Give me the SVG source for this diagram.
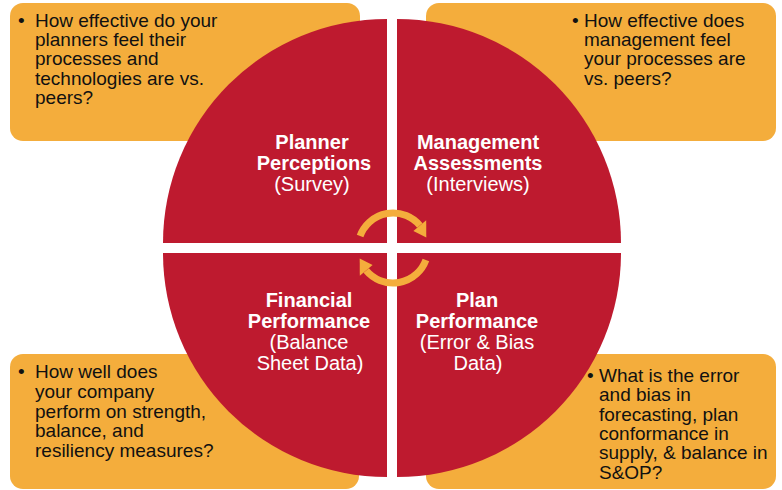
<svg xmlns="http://www.w3.org/2000/svg" width="782" height="490" viewBox="0 0 782 490">
  <style>
    .box { fill: #F4AD3C; }
    .quad { fill: #BE1A2F; }
    .q { font-family: "Liberation Sans", Arial, sans-serif; font-size: 19px; fill: #111111; }
    .t { font-family: "Liberation Sans", Arial, sans-serif; font-size: 20px; fill: #FFFFFF; text-anchor: middle; }
    .b { font-weight: bold; }
    .arc { fill: none; stroke: #F4AD3C; stroke-width: 7; }
    .head { fill: #F4AD3C; }
  </style>
  <rect width="782" height="490" fill="#FFFFFF"/>

  <!-- question boxes (behind the circle) -->
  <g id="box-planner">
    <rect class="box" x="10" y="3" width="350" height="138" rx="13"/>
    <text class="q" x="18" y="26.7">•</text>
    <text class="q">
      <tspan x="35" y="26.7">How effective do your</tspan>
      <tspan x="35" y="46">planners feel their</tspan>
      <tspan x="35" y="65.3">processes and</tspan>
      <tspan x="35" y="84.6">technologies are vs.</tspan>
      <tspan x="35" y="104">peers?</tspan>
    </text>
  </g>
  <g id="box-management">
    <rect class="box" x="426" y="3" width="350" height="138" rx="13"/>
    <text class="q" x="572" y="26.7">•</text>
    <text class="q">
      <tspan x="584" y="26.7">How effective does</tspan>
      <tspan x="584" y="46">management feel</tspan>
      <tspan x="584" y="65.3">your processes are</tspan>
      <tspan x="584" y="84.7">vs. peers?</tspan>
    </text>
  </g>
  <g id="box-financial">
    <rect class="box" x="10" y="354" width="349" height="135" rx="13"/>
    <text class="q" x="18" y="378.3">•</text>
    <text class="q">
      <tspan x="35" y="378.3">How well does</tspan>
      <tspan x="35" y="397.9">your company</tspan>
      <tspan x="35" y="417.5">perform on strength,</tspan>
      <tspan x="35" y="437.1">balance, and</tspan>
      <tspan x="35" y="456.7">resiliency measures?</tspan>
    </text>
  </g>
  <g id="box-plan">
    <rect class="box" x="426" y="354" width="350" height="135" rx="13"/>
    <text class="q" x="587" y="382">•</text>
    <text class="q">
      <tspan x="599" y="382">What is the error</tspan>
      <tspan x="599" y="401.3">and bias in</tspan>
      <tspan x="599" y="420.6">forecasting, plan</tspan>
      <tspan x="599" y="439.9">conformance in</tspan>
      <tspan x="599" y="459.2">supply, &amp; balance in</tspan>
      <tspan x="599" y="478.5">S&amp;OP?</tspan>
    </text>
  </g>

  <!-- the four quarter-circle quadrants -->
  <g id="planner-perceptions">
    <path class="quad" d="M387,243 L163,243 A224,224 0 0 1 387,19 Z"/>
    <text class="t b" x="312" y="149">Planner</text>
    <text class="t b" x="314" y="170">Perceptions</text>
    <text class="t" x="312" y="191">(Survey)</text>
  </g>
  <g id="management-assessments">
    <path class="quad" d="M397,243 L397,19 A224,224 0 0 1 621,243 Z"/>
    <text class="t b" x="478" y="149">Management</text>
    <text class="t b" x="478" y="170">Assessments</text>
    <text class="t" x="478" y="191">(Interviews)</text>
  </g>
  <g id="financial-performance">
    <path class="quad" d="M387,253 L387,477 A224,224 0 0 1 163,253 Z"/>
    <text class="t b" x="309" y="307">Financial</text>
    <text class="t b" x="309" y="328">Performance</text>
    <text class="t" x="309" y="349">(Balance</text>
    <text class="t" x="310" y="370">Sheet Data)</text>
  </g>
  <g id="plan-performance">
    <path class="quad" d="M397,253 L621,253 A224,224 0 0 1 397,477 Z"/>
    <text class="t b" x="477" y="307">Plan</text>
    <text class="t b" x="477" y="328">Performance</text>
    <text class="t" x="477" y="349">(Error &amp; Bias</text>
    <text class="t" x="478" y="370">Data)</text>
  </g>

  <!-- circular arrows linking the quadrants -->
  <g id="connectors">
    <path class="arc" d="M360.1,236 A35,35 0 0 1 419.8,225.5"/>
    <polygon class="head" points="426.2,220.3 413.4,231 426.3,237.5"/>
    <path class="arc" d="M425.9,260 A35,35 0 0 1 366.2,270.5"/>
    <polygon class="head" points="359.8,275.7 372.6,265 359.7,258.5"/>
  </g>
</svg>
